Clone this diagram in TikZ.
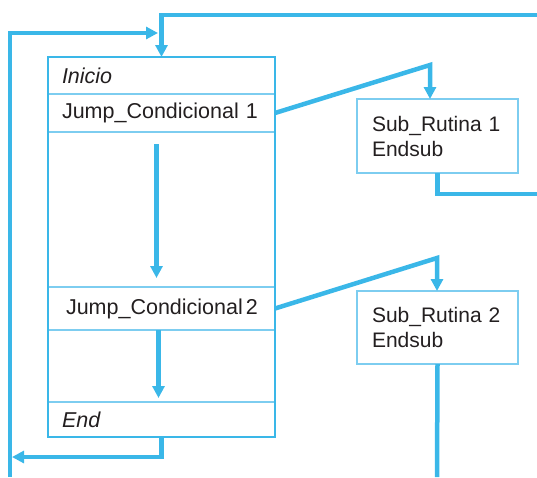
\documentclass[tikz,border=0pt]{standalone}
\usepackage{fontspec}
\setmainfont{Liberation Sans}
\usetikzlibrary{positioning, arrows.meta}
\definecolor{azul}{RGB}{58,183,232}
\definecolor{celeste}{RGB}{125,205,240}
\definecolor{tinta}{RGB}{35,31,32}
\tikzset{
fila/.style={draw=celeste, line width=1.2pt, minimum width=227pt, text width=199pt, align=left, inner xsep=14pt, inner ysep=0pt, outer sep=0pt, text=tinta, font=\fontsize{21.5}{25}\selectfont}, % one row of the main program
marco/.style={draw=azul, line width=2.5pt}, % frame round the main program
subrutina/.style={draw=celeste, line width=1.2pt, minimum width=161pt, text width=131pt, align=left, inner xsep=15pt, inner ysep=0pt, outer sep=0pt, text=tinta, font=\fontsize{21}{25}\selectfont}, % the two sub boxes
flujo/.style={draw=azul, line width=4.5pt, -{Triangle[width=12pt,length=12pt]}}, % thick flow lines
}

\begin{document}
\begin{tikzpicture}[x=1pt, y=-1pt]
        \useasboundingbox (0,0) rectangle (537,477);

        % main program
        \node[fila, minimum height=37pt, anchor=north west] (inicio) at (48,57) {\textit{Inicio}};
        \node[fila, minimum height=38pt, below=0pt of inicio] (jc1) {Jump\_Condicional 1};
        \node[fila, minimum height=155pt, below=0pt of jc1] (hueco1) {};
        \node[fila, minimum height=43pt, below=0pt of hueco1] (jc2) {\hspace*{4pt}Jump\_Condicional\hspace{3pt}2};
        \node[fila, minimum height=72pt, below=0pt of jc2] (hueco2) {};
        \node[fila, minimum height=35pt, below=0pt of hueco2] (fin) {\textit{End}};
        \draw[marco] (inicio.north west) rectangle (fin.south east);

        % subroutines
        \node[subrutina, minimum height=74pt, anchor=north west] (sub1) at (357,99) {Sub\_Rutina 1\\Endsub};
        \node[subrutina, minimum height=73pt, anchor=north west] (sub2) at (357,291) {Sub\_Rutina 2\\Endsub};

        \coordinate (entrada) at (537,15);
        \coordinate (retorno) at (10,477);
        \coordinate (vuelta) at (158,33);
        \coordinate (salida) at (12,457);
        \coordinate (pico1) at (430,65);
        \coordinate (salida1) at (537,194);
        \coordinate (pico2) at (437,258);
        \coordinate (salida2) at (437,477);

        \draw[flujo] (entrada) -| (inicio.north);
        \draw[flujo] (retorno) |- (vuelta);
        \draw[flujo] (fin.south) |- (salida);
        \draw[flujo] ([xshift=-5pt, yshift=-12pt]hueco1.north) -- ([xshift=-5pt, yshift=9pt]hueco1.south);
        \draw[flujo] ([xshift=-3pt]hueco2.north) -- ([xshift=-3pt, yshift=4pt]hueco2.south);
        \draw[flujo] (jc1.east) -- (pico1) -- (pico1 |- sub1.north);
        \draw[flujo, -] (sub1.south) |- (salida1);
        \draw[flujo] (jc2.east) -- (pico2) -- (pico2 |- sub2.north);
        \draw[flujo, -] (sub2.south) -- (salida2);
\end{tikzpicture}
\end{document}
